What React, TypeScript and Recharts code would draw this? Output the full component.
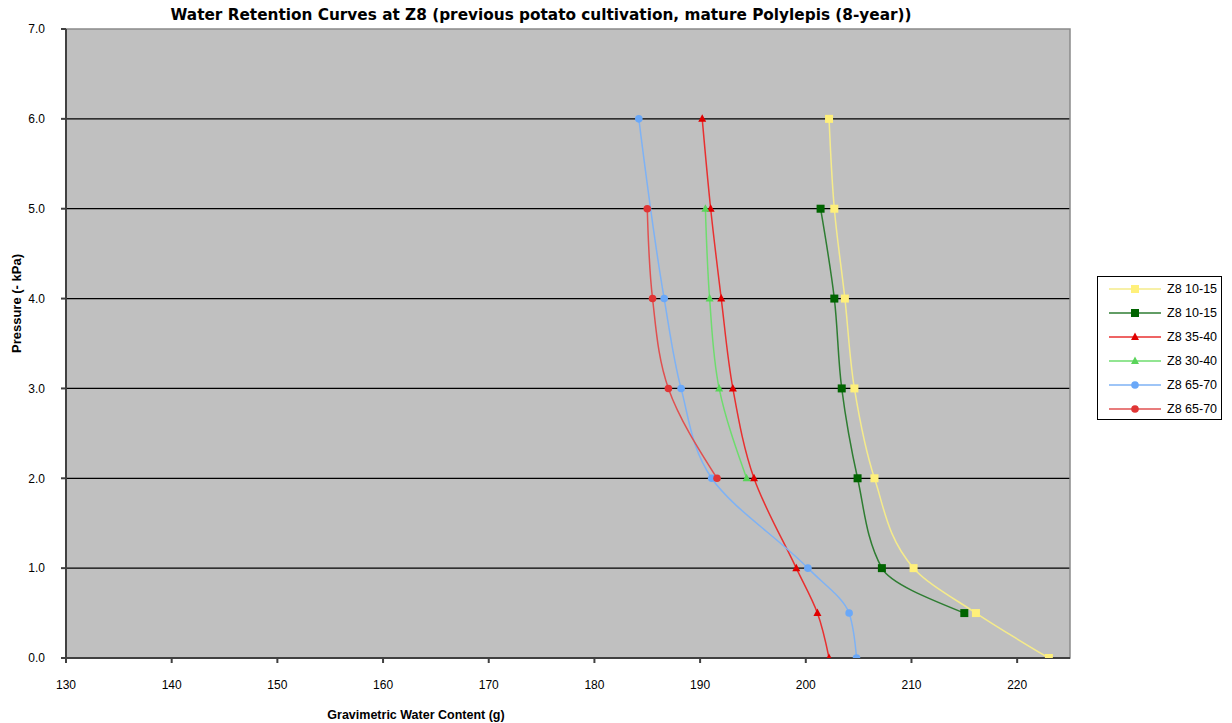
import React from 'react';
import {
  ComposedChart,
  Line,
  XAxis,
  YAxis,
  CartesianGrid,
  ReferenceArea,
  Label,
} from 'recharts';

// Axis ticks
const waterTicks = [130, 140, 150, 160, 170, 180, 190, 200, 210, 220];
const pressureTicks = [0, 1, 2, 3, 4, 5, 6, 7];
const gridLevels = [1, 2, 3, 4, 5, 6];

// Pressure levels (- kPa) and gravimetric water content (g) per sample
const pressure10_15a = [0, 0.5, 1, 2, 3, 4, 5, 6];
const water10_15a = [223.0, 216.1, 210.2, 206.5, 204.6, 203.7, 202.7, 202.2];

const pressure10_15b = [0.5, 1, 2, 3, 4, 5];
const water10_15b = [215.0, 207.2, 204.9, 203.4, 202.7, 201.4];

const pressure35_40 = [0, 0.5, 1, 2, 3, 4, 5, 6];
const water35_40 = [202.2, 201.1, 199.1, 195.1, 193.1, 192.0, 191.0, 190.2];

const pressure30_40 = [2, 3, 4, 5];
const water30_40 = [194.4, 191.8, 190.9, 190.5];

const pressure65_70a = [0, 0.5, 1, 2, 3, 4, 6];
const water65_70a = [204.8, 204.1, 200.2, 191.1, 188.2, 186.6, 184.2];

const pressure65_70b = [2, 3, 4, 5];
const water65_70b = [191.6, 187.0, 185.5, 185.0];

type Shape = 'square' | 'triangle' | 'circle';

interface Series {
  name: string;
  line: string;
  marker: string;
  shape: Shape;
  pressure: number[];
  water: number[];
}

const series: Series[] = [
  { name: 'Z8 10-15', line: '#F5EB8A', marker: '#FFF07A', shape: 'square', pressure: pressure10_15a, water: water10_15a },
  { name: 'Z8 10-15', line: '#2E7D32', marker: '#006400', shape: 'square', pressure: pressure10_15b, water: water10_15b },
  { name: 'Z8 35-40', line: '#E83030', marker: '#E00000', shape: 'triangle', pressure: pressure35_40, water: water35_40 },
  { name: 'Z8 30-40', line: '#6EDC6E', marker: '#5AD45A', shape: 'triangle', pressure: pressure30_40, water: water30_40 },
  { name: 'Z8 65-70', line: '#7EB2F5', marker: '#6AA8F8', shape: 'circle', pressure: pressure65_70a, water: water65_70a },
  { name: 'Z8 65-70', line: '#E05050', marker: '#E03535', shape: 'circle', pressure: pressure65_70b, water: water65_70b },
];

const FONT = '"Liberation Sans", Arial, sans-serif';

function Marker({ cx, cy, shape, color }: { cx: number; cy: number; shape: Shape; color: string }) {
  if (cx == null || cy == null) return null;
  if (shape === 'square') {
    return <rect x={cx - 4} y={cy - 4} width={8} height={8} fill={color} />;
  }
  if (shape === 'triangle') {
    return (
      <polygon
        points={`${cx},${cy - 4.5} ${cx + 4},${cy + 3} ${cx - 4},${cy + 3}`}
        fill={color}
      />
    );
  }
  return <circle cx={cx} cy={cy} r={3.8} fill={color} />;
}

function LegendBox() {
  return (
    <div
      style={{
        position: 'absolute',
        left: 1097,
        top: 276,
        width: 125,
        height: 144,
        border: '1px solid #000',
        background: '#fff',
        boxSizing: 'border-box',
        paddingTop: 0,
        fontFamily: FONT,
        fontSize: 12.5,
      }}
    >
      {series.map((s, i) => (
        <div key={i} style={{ display: 'flex', alignItems: 'center', height: 24 }}>
          <svg width={69} height={12} style={{ flex: 'none' }}>
            <line x1={11} y1={6} x2={63} y2={6} stroke={s.line} strokeWidth={1.5} />
            <Marker cx={37} cy={6} shape={s.shape} color={s.marker} />
          </svg>
          <span style={{ color: '#000', whiteSpace: 'nowrap' }}>{s.name}</span>
        </div>
      ))}
    </div>
  );
}

export default function App() {
  return (
    <div style={{ position: 'absolute', left: 0, top: 0, width: 1232, height: 723, background: '#fff' }}>
      <ComposedChart
        layout="vertical"
        width={1232}
        height={723}
        margin={{ top: 29, right: 162, bottom: 0, left: 10 }}
        style={{ position: 'absolute', left: 0, top: 0 }}
      >
        <CartesianGrid
          vertical={false}
          horizontalValues={gridLevels}
          stroke="#000"
          strokeWidth={1.3}
          fill="#C0C0C0"
          fillOpacity={1}
        />
        <ReferenceArea
          x1={130}
          x2={225}
          y1={0}
          y2={7}
          fill="none"
          stroke="#8A8A8A"
          strokeWidth={1.5}
          ifOverflow="visible"
        />
        <XAxis
          type="number"
          domain={[130, 225]}
          ticks={waterTicks}
          allowDataOverflow
          height={65}
          stroke="#404040"
          strokeWidth={2}
          tickSize={5}
          tickMargin={17}
          tick={{ fill: '#000', fontSize: 12, fontFamily: FONT }}
        >
          <Label
            value="Gravimetric Water Content (g)"
            position="insideBottom"
            dx={-152}
            offset={4}
            style={{ fontWeight: 'bold', fontSize: 12.5, fill: '#000', fontFamily: FONT }}
          />
        </XAxis>
        <YAxis
          type="number"
          dataKey="p"
          domain={[0, 7]}
          ticks={pressureTicks}
          reversed
          allowDataOverflow
          width={56}
          stroke="#404040"
          strokeWidth={2}
          tickSize={5}
          tickMargin={16}
          tickFormatter={(v: number) => v.toFixed(1)}
          tick={{ fill: '#000', fontSize: 12, fontFamily: FONT }}
        >
          <Label
            value="Pressure (- kPa)"
            angle={-90}
            position="insideLeft"
            dx={1}
            dy={-40}
            style={{ fontWeight: 'bold', fontSize: 13, fill: '#000', fontFamily: FONT, textAnchor: 'middle' }}
          />
        </YAxis>
        {series.map((s, i) => (
          <Line
            key={i}
            name={s.name}
            data={s.pressure.map((p, j) => ({ p, w: s.water[j] }))}
            dataKey="w"
            type="monotone"
            stroke={s.line}
            strokeWidth={1.5}
            isAnimationActive={false}
            dot={(props: any) => (
              <Marker key={`${i}-${props.index}`} cx={props.cx} cy={props.cy} shape={s.shape} color={s.marker} />
            )}
            activeDot={false}
          />
        ))}
      </ComposedChart>
      <div
        style={{
          position: 'absolute',
          left: 0,
          width: 1082,
          top: 6,
          textAlign: 'center',
          fontFamily: '"DejaVu Sans", Verdana, sans-serif',
          fontWeight: 'bold',
          fontSize: 15.3,
          color: '#000',
          whiteSpace: 'nowrap',
        }}
      >
        Water Retention Curves at Z8 (previous potato cultivation, mature Polylepis (8-year))
      </div>
      <LegendBox />
    </div>
  );
}
